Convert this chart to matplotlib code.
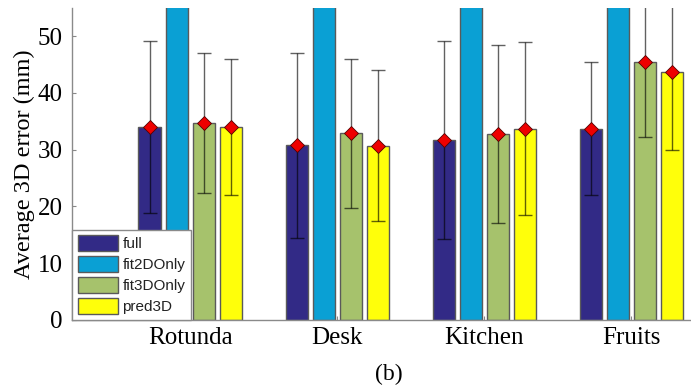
import numpy as np
import matplotlib
matplotlib.use("Agg")
import matplotlib.pyplot as plt

categories = ["Rotunda", "Desk", "Kitchen", "Fruits"]
series = ["full", "fit2DOnly", "fit3DOnly", "pred3D"]
full = [34.0, 30.8, 31.7, 33.7]
full_err = [15.1, 16.3, 17.4, 11.7]
fit2d = [80.0, 82.0, 81.0, 85.0]
fit3d = [34.7, 32.9, 32.7, 45.5]
fit3d_err = [12.4, 13.1, 15.7, 13.2]
pred3d = [34.0, 30.7, 33.7, 43.7]
pred3d_err = [12.0, 13.3, 15.2, 13.8]
yticks = [0, 10, 20, 30, 40, 50]

colors = ["#322A86", "#0AA0D4", "#A6C26C", "#FFFF0A"]
values = [full, fit2d, fit3d, pred3d]
errors = [full_err, None, fit3d_err, pred3d_err]

fig = plt.figure(figsize=(6.91, 3.88), dpi=100)
ax = fig.add_axes([0.1042, 0.1753, 0.8958, 0.805])

x = np.arange(1, len(categories) + 1)
step = 0.184
width = 0.15
offsets = (np.arange(4) - 1.5) * step

serif = "Liberation Serif"
for i, (name, vals, err, col) in enumerate(zip(series, values, errors, colors)):
    xs = x + offsets[i]
    ax.bar(xs, vals, width=width, color=col, edgecolor="#5a5a5a", linewidth=1.0,
           label=name, zorder=2)
    if err is not None:
        ax.errorbar(xs, vals, yerr=err, fmt="none", ecolor=(0, 0, 0, 0.62), elinewidth=1.0,
                    capsize=5, capthick=1.0, zorder=3)
        ax.plot(xs, vals, linestyle="none", marker="D", markersize=7,
                markerfacecolor="#EE0000", markeredgecolor="#550000",
                markeredgewidth=0.6, zorder=4)

ax.set_xlim(0.197, 4.405)
ax.set_ylim(0, 55)
ax.set_yticks(yticks)
ax.set_xticks(x)
ax.set_xticklabels(categories, fontfamily=serif, fontsize=18)
ax.set_yticklabels([str(t) for t in yticks], fontfamily=serif, fontsize=18)
ax.tick_params(axis="both", direction="in", length=3, color="#888888")
ax.tick_params(axis="y", pad=6.5)
ax.tick_params(axis="x", pad=5)
for s in ["top", "right"]:
    ax.spines[s].set_visible(False)
for s in ["left", "bottom"]:
    ax.spines[s].set_color("#8a8a8a")
    ax.spines[s].set_linewidth(1.0)

ax.set_ylabel("Average 3D error (mm)", fontfamily=serif, fontsize=17.5, labelpad=2)

leg = ax.legend(loc="lower left", bbox_to_anchor=(0, 0), borderaxespad=0,
                prop={"family": "Liberation Sans", "size": 11},
                handlelength=2.62, handleheight=1.18, labelspacing=0.33,
                handletextpad=0.3, borderpad=0.38, fancybox=False, framealpha=1)
leg.get_frame().set_edgecolor("#8a8a8a")
leg.get_frame().set_linewidth(1.0)
for t in leg.get_texts():
    t.set_color("#222222")
leg.set_zorder(5)

fig.text(0.562, 0.036, "(b)", fontfamily=serif, fontsize=17, ha="center", va="center")

fig.savefig("out.png", dpi=100)
